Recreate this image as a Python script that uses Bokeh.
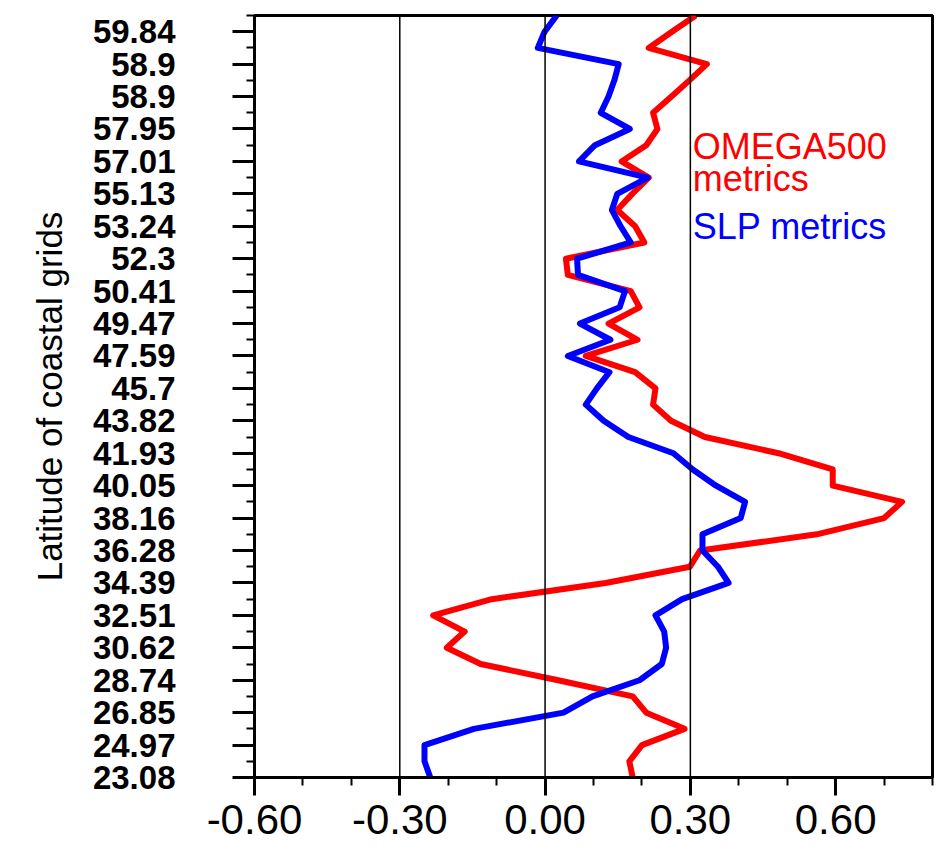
from bokeh.plotting import figure
from bokeh.models import FixedTicker, Span, Label, PrintfTickFormatter
from bokeh.embed import file_html
from bokeh.resources import INLINE

# Latitude labels of coastal grids (every other grid point is labelled), bottom -> top
lat_labels = ["23.08", "24.97", "26.85", "28.74", "30.62", "32.51", "34.39", "36.28",
              "38.16", "40.05", "41.93", "43.82", "45.7", "47.59", "49.47", "50.41",
              "52.3", "53.24", "55.13", "57.01", "57.95", "58.9", "58.9", "59.84"]

# Metric values at each coastal grid point, bottom (south) -> top (north)
omega500 = [0.181, 0.174, 0.200, 0.288, 0.209, 0.181, 0.027, -0.133,
            -0.203, -0.166, -0.231, -0.110, 0.125, 0.299, 0.320, 0.561,
            0.700, 0.737, 0.594, 0.594, 0.482, 0.330, 0.260, 0.223,
            0.228, 0.186, 0.084, 0.191, 0.131, 0.195, 0.177, 0.047,
            0.043, 0.205, 0.186, 0.149, 0.180, 0.214, 0.158, 0.209,
            0.232, 0.223, 0.261, 0.298, 0.334, 0.214, 0.262, 0.311]
slp = [-0.237, -0.249, -0.249, -0.147, 0.038, 0.098, 0.195, 0.241,
       0.250, 0.246, 0.228, 0.283, 0.379, 0.357, 0.325, 0.325,
       0.404, 0.413, 0.353, 0.305, 0.265, 0.172, 0.121, 0.084,
       0.107, 0.133, 0.047, 0.135, 0.072, 0.154, 0.165, 0.068,
       0.066, 0.177, 0.156, 0.138, 0.149, 0.212, 0.070, 0.103,
       0.175, 0.115, 0.131, 0.143, 0.152, -0.015, -0.001, 0.024]

x_major = [-0.6, -0.3, 0.0, 0.3, 0.6]
x_minor = [-0.6, -0.5, -0.4, -0.3, -0.2, -0.1, 0.0, 0.1, 0.2, 0.3, 0.4, 0.5, 0.6, 0.7, 0.8]
ref_lines = [-0.3, 0.0, 0.3]

n = len(omega500)
grid_idx = list(range(n))
y_major = [2 * k for k in range(len(lat_labels))]
y_minor = [i for i in range(n) if i % 2 == 1]

p = figure(width=943, height=854, x_range=(-0.6, 0.8), y_range=(0, n - 1),
           output_backend="svg", toolbar_location=None,
           min_border_left=254, min_border_right=11, min_border_top=15, min_border_bottom=77)
p.xgrid.visible = False
p.ygrid.visible = False
p.background_fill_color = "white"
p.border_fill_color = "white"
p.outline_line_color = "black"
p.outline_line_width = 3

for loc in ref_lines:
    p.add_layout(Span(location=loc, dimension="height", line_color="black", line_width=1.5))

p.line(omega500, grid_idx, line_color="#ff0000", line_width=6, line_join="round")
p.line(slp, grid_idx, line_color="#0000ff", line_width=6, line_join="round")

# x axis
p.xaxis.ticker = FixedTicker(ticks=x_major, minor_ticks=x_minor)
p.xaxis.formatter = PrintfTickFormatter(format="%.2f")
p.xaxis.major_label_text_font = "Liberation Sans"
p.xaxis.major_label_text_font_size = "42px"
p.xaxis.major_label_text_color = "black"
p.xaxis.major_label_standoff = 9
p.xaxis.axis_line_width = 3
p.xaxis.major_tick_line_width = 3
p.xaxis.minor_tick_line_width = 2
p.xaxis.major_tick_out = 18
p.xaxis.major_tick_in = 0
p.xaxis.minor_tick_out = 8
p.xaxis.minor_tick_in = 0

# y axis
p.yaxis.ticker = FixedTicker(ticks=y_major, minor_ticks=y_minor)
p.yaxis.major_label_overrides = {2 * k: lab for k, lab in enumerate(lat_labels)}
p.yaxis.major_label_text_font = "Liberation Sans"
p.yaxis.major_label_text_font_style = "bold"
p.yaxis.major_label_text_font_size = "33px"
p.yaxis.major_label_text_color = "black"
p.yaxis.major_label_standoff = 57
p.yaxis.axis_line_width = 3
p.yaxis.major_tick_line_width = 3
p.yaxis.minor_tick_line_width = 2
p.yaxis.major_tick_out = 22
p.yaxis.major_tick_in = 0
p.yaxis.minor_tick_out = 8
p.yaxis.minor_tick_in = 0
p.yaxis.axis_label = "Latitude of coastal grids"
p.yaxis.axis_label_text_font = "Liberation Sans"
p.yaxis.axis_label_text_font_style = "normal"
p.yaxis.axis_label_text_font_size = "35px"
p.yaxis.axis_label_text_color = "black"
p.yaxis.axis_label_standoff = 21

# in-plot legend texts
p.add_layout(Label(x=0.305, y=38.95, text="OMEGA500", text_color="#ff0000",
                   text_font="Liberation Sans", text_font_size="36px", text_baseline="alphabetic"))
p.add_layout(Label(x=0.305, y=36.95, text="metrics", text_color="#ff0000",
                   text_font="Liberation Sans", text_font_size="36px", text_baseline="alphabetic"))
p.add_layout(Label(x=0.305, y=34.0, text="SLP metrics", text_color="#0000ff",
                   text_font="Liberation Sans", text_font_size="36px", text_baseline="alphabetic"))

open("out.html", "w").write(file_html(p, INLINE))
